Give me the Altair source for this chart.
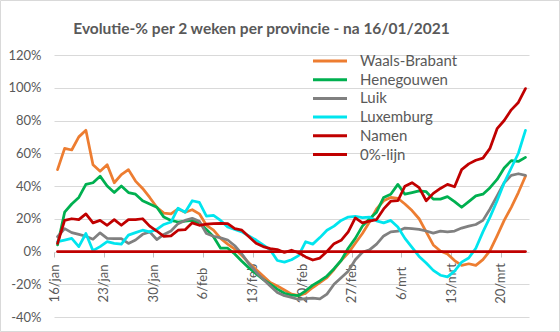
import altair as alt
import pandas as pd

# ---- data -------------------------------------------------------------
x_labels = ["16/jan", "23/jan", "30/jan", "6/feb", "13/feb", "20/feb",
            "27/feb", "6/mrt", "13/mrt", "20/mrt"]
series_names = ["Waals-Brabant", "Henegouwen", "Luik", "Luxemburg", "Namen", "0%-lijn"]
series_colors = ["#ED7D31", "#00B050", "#808080", "#00E5EE", "#C00000", "#C00000"]

waals_brabant = [50, 63, 62, 70, 74, 53, 49, 53, 42, 47,
                 50, 43, 38.5, 33, 27, 23.5, 23, 26, 24, 25.5,
                 23, 16, 13, 8, 4.5, 1.5, -2.5, -7, -11, -15,
                 -19, -21, -23.5, -26, -27, -25.5, -22, -19, -16, -11,
                 -5.5, -1, 5, 11, 18, 26, 31, 33, 32.5, 29,
                 25, 20, 12, 4, 0.3, -1.5, -5.5, -8.5, -7.5, -8.5,
                 -5, 0.5, 9.5, 19, 27, 36, 46]
henegouwen = [4, 24, 29, 33, 41, 42, 46, 40, 36, 40,
              36, 35, 31, 29, 27, 21, 19, 18, 18.5, 19,
              17.5, 13.5, 9, 2, 2, -1.5, -6, -10, -13.5, -17,
              -20, -23, -25.5, -26.7, -27, -24, -20.5, -18, -15, -10.5,
              -5.5, 2, 8, 15.5, 20, 24, 33, 35, 41, 35,
              36, 37, 36.5, 32, 32, 33.5, 30.5, 27, 30.5, 34,
              35, 39, 44, 51, 55.5, 55, 57.5]
luik = [9, 14, 11.5, 10.5, 9.3, 7.5, 11.4, 8, 7.8, 7.8,
        4.9, 7, 10.5, 12, 7.3, 10.4, 12.5, 17, 19, 20.3,
        18.5, 11, 9.3, 8.3, 7, 3.5, -1.5, -7.5, -12.5, -17,
        -21, -25, -27, -28, -29.3, -28.8, -28.5, -29, -26, -20,
        -16, -12, -5, -0.5, 1, 4.5, 9.5, 12, 12.4, 14.3,
        14, 13.5, 12.5, 11.2, 12.4, 12, 12.5, 14.3, 15.5, 16.5,
        19, 26, 34, 42, 46.5, 47.5, 46.5]
luxemburg = [6, 7, 8, 3, 11, 0.5, 3, 6, 5, 4.5,
             10, 11.5, 13, 12, 13.5, 16.5, 18, 26.5, 24, 31,
             30, 21.6, 22, 19, 15, 13.4, 12, 9.5, 7, 4,
             1, -5.5, -6.5, -5, -2.5, 6, 4.5, 8.5, 13, 15.5,
             19, 21, 21.5, 20.7, 21, 18.7, 17.5, 19, 15, 8,
             2.5, -3, -7, -11.5, -14.5, -15.5, -12, -6.5, -4, 2,
             12, 21, 31, 42, 51, 60, 74]
namen = [5, 19, 20, 19.5, 23, 17.5, 19, 16, 19.5, 16,
         19.5, 19.5, 20, 15.5, 12.5, 9.2, 9.5, 13, 13.3, 17.5,
         16, 16.7, 17, 17.2, 17, 14, 13, 9, 5, 3,
         1.8, 1.2, -0.6, 0.8, -0.8, -3.3, -5.2, -4, 0, 4.8,
         6.8, 12, 20.5, 17.5, 18.5, 19.5, 26, 30.7, 31, 39.9,
         42, 39, 31, 35.5, 38.5, 41, 39.5, 50, 53.5, 55.7,
         57, 63, 75, 80, 86.5, 91, 99.5]
nul_lijn = [0] * len(namen)

all_series = [waals_brabant, henegouwen, luik, luxemburg, namen, nul_lijn]

rows = []
for name, vals in zip(series_names, all_series):
    for d, v in enumerate(vals):
        rows.append({"provincie": name, "dag": d, "pct": v})
df = pd.DataFrame(rows)

n_days = len(namen)
tick_days = [7 * i for i in range(len(x_labels))]
label_array = "[" + ",".join("'" + s + "'" for s in x_labels) + "]"

FONT = "Lato"
TXT = "#595959"

color = alt.Color(
    "provincie:N",
    scale=alt.Scale(domain=series_names, range=series_colors),
    legend=alt.Legend(
        title=None, orient="none", legendX=266, legendY=-4,
        symbolType="M-2,0H2", symbolSize=289, symbolStrokeWidth=3,
        labelFontSize=15, labelFont=FONT, labelColor=TXT,
        labelOffset=20, rowPadding=0.7, padding=0,
    ),
)

x = alt.X(
    "pos:Q",
    scale=alt.Scale(domain=[0, n_days], nice=False, zero=False),
    axis=alt.Axis(
        values=tick_days, labelExpr=label_array + "[round(datum.value/7)]",
        title=None, grid=False, domain=False, ticks=True, tickSize=5,
        tickColor="#BFBFBF", labelAngle=270, labelAlign="center",
        labelBaseline="middle", labelPadding=26, offset=-65,
        labelFontSize=13, labelFont=FONT, labelColor=TXT,
    ),
)
y = alt.Y(
    "pct:Q",
    scale=alt.Scale(domain=[-40, 120], nice=False),
    axis=alt.Axis(
        values=list(range(-40, 121, 20)), labelExpr="datum.value + '%'",
        title=None, domain=False, ticks=False, grid=True,
        gridColor="#D9D9D9", labelPadding=13, labelFontSize=13,
        labelFont=FONT, labelColor=TXT,
    ),
)

base = alt.Chart(df).transform_calculate(pos="datum.dag + 0.5")

layers = []
for name in series_names:
    layers.append(
        base.transform_filter(alt.datum.provincie == name)
        .mark_line(strokeWidth=2.75, strokeJoin="round", strokeCap="round")
        .encode(x=x, y=y, color=color)
    )

border = alt.Chart(pd.DataFrame({"a": [0]})).mark_rect(
    fillOpacity=0, stroke="#D9D9D9", strokeWidth=1
).encode(x=alt.value(-53.5), x2=alt.value(505.5), y=alt.value(-54.5), y2=alt.value(276.5))

chart = alt.layer(*layers, border).properties(
    width=475, height=262,
    title=alt.Title(
        "Evolutie-% per 2 weken per provincie - na 16/01/2021",
        font=FONT, fontSize=15.5, fontWeight="bold", color=TXT,
        anchor="middle", dx=-30, offset=-37,
    ),
    autosize=alt.AutoSizeParams(type="none"),
    padding={"left": 54, "top": 55, "right": 31, "bottom": 15},
).configure_view(strokeWidth=0)

chart.save("out.html", embed_options={"renderer": "svg", "actions": False})
